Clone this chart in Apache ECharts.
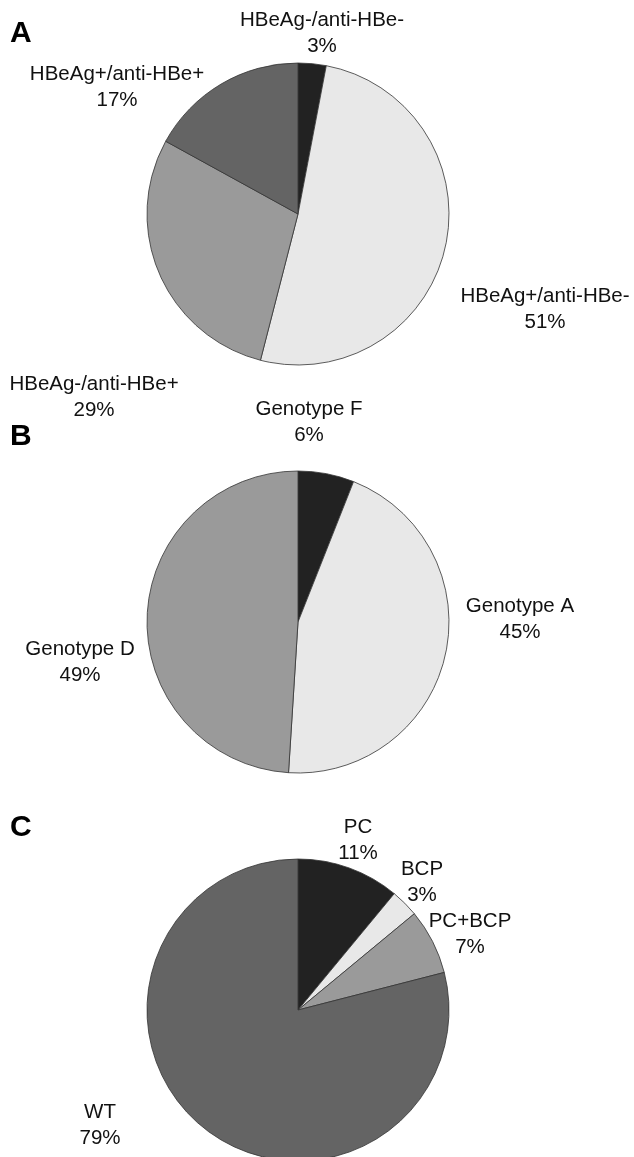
<!DOCTYPE html>
<html>
<head>
<meta charset="utf-8">
<script src="https://cdn.jsdelivr.net/npm/echarts@6/dist/echarts.min.js"></script>
<style>
html,body{margin:0;padding:0;background:#fff;}
#c{width:634px;height:1157px;}
</style>
</head>
<body>
<div id="c"></div>
<script>
// Panel A: HBeAg / anti-HBe status (clockwise from 12 o'clock)
const catsA = ['HBeAg-/anti-HBe-', 'HBeAg+/anti-HBe-', 'HBeAg-/anti-HBe+', 'HBeAg+/anti-HBe+'];
const valsA = [3, 51, 29, 17];
// Panel B: genotypes
const catsB = ['Genotype F', 'Genotype A', 'Genotype D'];
const valsB = [6, 45, 49];
// Panel C: mutations
const catsC = ['PC', 'BCP', 'PC+BCP', 'WT'];
const valsC = [11, 3, 7, 79];
const panelLetters = ['A', 'B', 'C'];

// styling / layout (not data)
const colA = ['#222222', '#e8e8e8', '#9a9a9a', '#646464'];
const colB = ['#222222', '#e8e8e8', '#9a9a9a'];
const colC = ['#222222', '#e8e8e8', '#9a9a9a', '#646464'];
const centers = [[298, 214], [298, 622], [298, 1010]];
const R = 151;
const labelPos = [
  [[322, 33], [545, 309], [94, 397], [117, 87]],
  [[309, 422], [520, 619], [80, 662]],
  [[358, 840], [422, 882], [470, 934], [100, 1125]]
];
const letterTop = [19, 422, 813];

function mk(cats, vals, cols) {
  return cats.map((n, i) => ({ name: n, value: vals[i], itemStyle: { color: cols[i] } }));
}

const font = 'Liberation Sans, Arial, sans-serif';
function series(idx, data) {
  return {
    type: 'pie',
    center: centers[idx],
    radius: [0, R],
    startAngle: 90,
    clockwise: true,
    animation: false,
    silent: true,
    data: data,
    itemStyle: { borderColor: '#333', borderWidth: 0.8 },
    label: {
      show: true,
      position: 'outside',
      formatter: p => p.name + '\n' + p.value + '%',
      color: '#111',
      fontFamily: font,
      fontSize: 20.5,
      lineHeight: 26,
      align: 'center',
      overflow: 'none'
    },
    labelLine: { show: false },
    labelLayout: function (p) {
      const pos = labelPos[idx][p.dataIndex];
      return { x: pos[0], y: pos[1], align: 'center', verticalAlign: 'middle', moveOverlap: false, hideOverlap: false };
    }
  };
}

const chart = echarts.init(document.getElementById('c'), null, { renderer: 'canvas' });
chart.setOption({
  backgroundColor: '#fff',
  animation: false,
  title: panelLetters.map((t, i) => ({
    text: t, left: 10, top: letterTop[i], padding: 0,
    textStyle: { fontFamily: font, fontWeight: 'bold', fontSize: 30, color: '#000' }
  })),
  series: [
    series(0, mk(catsA, valsA, colA)),
    series(1, mk(catsB, valsB, colB)),
    series(2, mk(catsC, valsC, colC))
  ]
});
</script>
</body>
</html>
